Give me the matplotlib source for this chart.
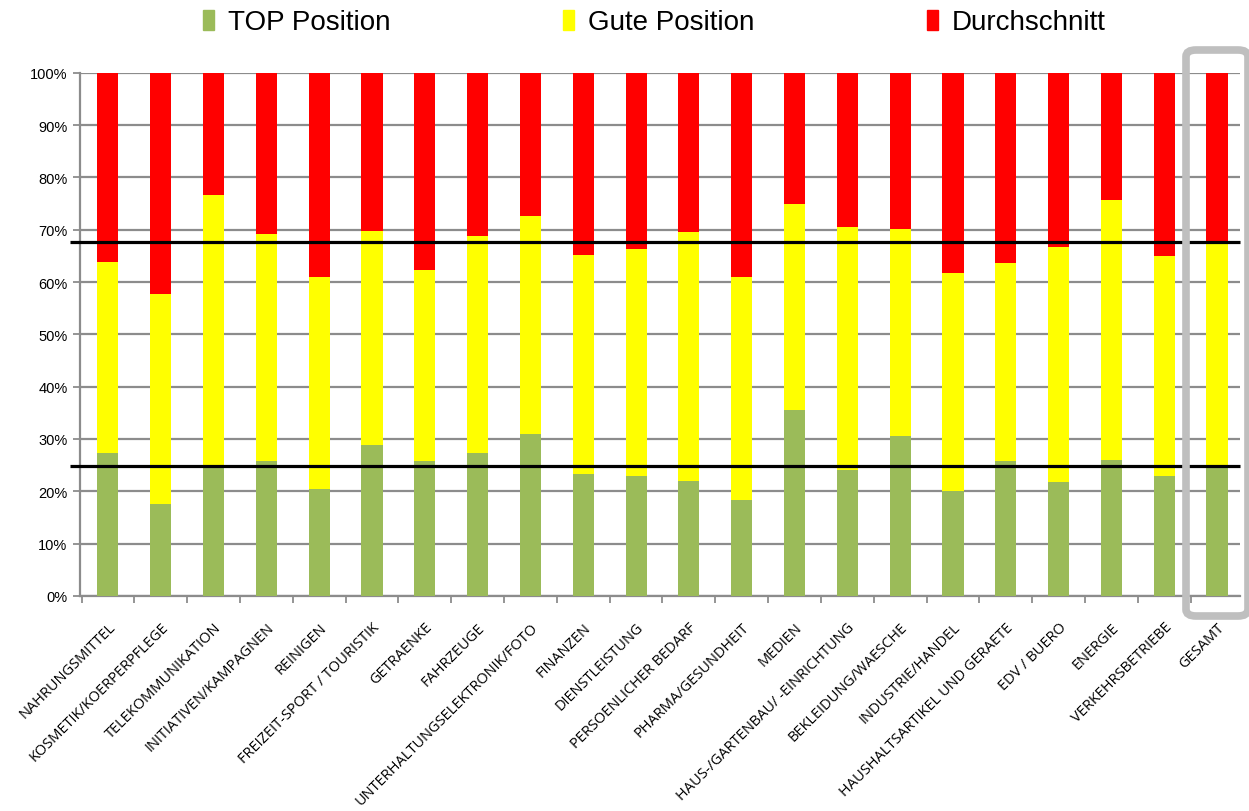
import matplotlib
matplotlib.use("Agg")
import matplotlib.pyplot as plt
from matplotlib.patches import Patch, FancyBboxPatch
from matplotlib.ticker import MultipleLocator, FixedLocator, PercentFormatter

# Branchen (x-Achse)
categories = [
    "NAHRUNGSMITTEL", "KOSMETIK/KOERPERPFLEGE", "TELEKOMMUNIKATION",
    "INITIATIVEN/KAMPAGNEN", "REINIGEN", "FREIZEIT-SPORT / TOURISTIK",
    "GETRAENKE", "FAHRZEUGE", "UNTERHALTUNGSELEKTRONIK/FOTO", "FINANZEN",
    "DIENSTLEISTUNG", "PERSOENLICHER BEDARF", "PHARMA/GESUNDHEIT", "MEDIEN",
    "HAUS-/GARTENBAU/ -EINRICHTUNG", "BEKLEIDUNG/WAESCHE", "INDUSTRIE/HANDEL",
    "HAUSHALTSARTIKEL UND GERAETE", "EDV / BUERO", "ENERGIE",
    "VERKEHRSBETRIEBE", "GESAMT",
]

# Anteile in %
top_position = [27.4, 17.6, 24.8, 25.8, 20.5, 28.9, 25.8, 27.4, 31.0, 23.3,
                23.0, 21.9, 18.3, 35.5, 24.0, 30.5, 20.0, 25.8, 21.8, 26.0,
                23.0, 24.8]
# Obergrenze "Gute Position" (kumuliert)
gute_cum = [63.8, 57.7, 76.6, 69.2, 61.0, 69.7, 62.3, 68.9, 72.6, 65.1,
            66.4, 69.5, 61.0, 74.9, 70.5, 70.1, 61.8, 63.6, 66.7, 75.6,
            64.9, 67.6]

gute_position = [g - t for g, t in zip(gute_cum, top_position)]
durchschnitt = [100 - g for g in gute_cum]

GREEN = "#9BBB59"
YELLOW = "#FFFF00"
RED = "#FF0000"
GRID = "#8C8C8C"

fig = plt.figure(figsize=(12.49, 8.12), dpi=100)
ax = fig.add_axes([0.064, 0.265, 0.929, 0.644])

x = list(range(len(categories)))
w = 0.4
ax.bar(x, top_position, width=w, color=GREEN, zorder=3)
ax.bar(x, gute_position, width=w, bottom=top_position, color=YELLOW, zorder=3)
ax.bar(x, durchschnitt, width=w, bottom=gute_cum, color=RED, zorder=3)

# Referenzlinien = Gesamtwerte
x0, x1 = -0.72, 21.44
for yv in (top_position[-1], gute_cum[-1]):
    ax.plot([x0, x1], [yv, yv], color="black", lw=2.3, zorder=5,
            clip_on=False, solid_capstyle="butt")

ax.set_xlim(-0.53, 21.44)
ax.set_ylim(0, 100)
ax.yaxis.set_major_locator(MultipleLocator(10))
ax.yaxis.set_major_formatter(PercentFormatter(decimals=0))
ax.grid(axis="y", color=GRID, lw=1.6, zorder=1)

ax.set_xticks(x)
ax.set_xticklabels(categories, rotation=45, ha="right", va="top",
                   rotation_mode="anchor", fontsize=10.5,
                   family=["Open Sans", "DejaVu Sans"])
ax.xaxis.set_minor_locator(FixedLocator([i - 0.5 for i in range(len(categories))]))
ax.tick_params(axis="x", which="major", length=0, pad=17)
ax.tick_params(axis="x", which="minor", length=5, width=1.3, color=GRID)
ax.tick_params(axis="y", length=5, width=1.3, color=GRID, labelsize=10.5, pad=4)
for lab in ax.get_yticklabels():
    lab.set_family(["Liberation Sans", "DejaVu Sans"])

for s in ("top", "right"):
    ax.spines[s].set_visible(False)
for s in ("left", "bottom"):
    ax.spines[s].set_color(GRID)
    ax.spines[s].set_linewidth(1.6)

# grauer Rahmen um GESAMT
box = FancyBboxPatch((1186 / 1249, 1 - 617 / 812), 62 / 1249, 566 / 812,
                     boxstyle="round,pad=0,rounding_size=0.008",
                     transform=fig.transFigure, fill=False,
                     edgecolor="#BFBFBF", lw=5.5, zorder=10)
fig.patches.append(box)

handles = [Patch(color=GREEN), Patch(color=YELLOW), Patch(color=RED)]
fig.legend(handles, ["TOP Position", "Gute Position", "Durchschnitt"],
           loc="upper center", bbox_to_anchor=(0.524, 1.018), ncol=3,
           frameon=False, columnspacing=6.2, handlelength=0.4,
           handleheight=0.75, handletextpad=0.5,
           prop={"family": ["Liberation Sans", "DejaVu Sans"], "size": 20})

fig.savefig("out.png", dpi=100)
